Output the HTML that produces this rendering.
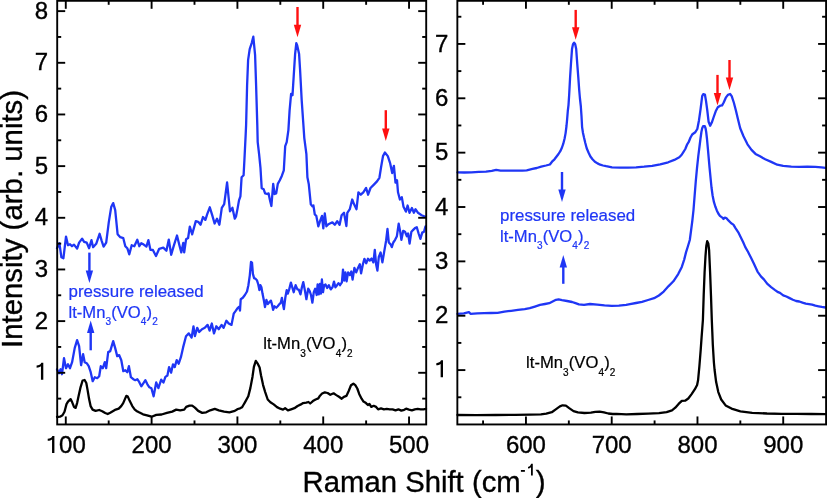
<!DOCTYPE html>
<html><head><meta charset="utf-8"><style>
html,body{margin:0;padding:0;background:#fff;}
svg{display:block;font-family:"Liberation Sans", sans-serif;will-change:transform;}
</style></head><body>
<svg width="827" height="498" viewBox="0 0 827 498">
<rect width="827" height="498" fill="#fff"/>
<polyline points="57.0,417.0 60.0,416.7 62.5,415.2 64.5,411.7 66.5,404.1 68.0,401.6 70.6,399.1 72.1,402.1 74.1,407.1 75.6,407.9 77.1,403.1 78.6,396.1 80.6,387.1 82.6,380.5 84.6,380.0 86.3,383.0 87.6,390.1 89.1,399.1 90.6,406.1 92.6,409.6 95.6,410.9 99.2,410.0 102.2,411.2 105.2,413.0 107.7,414.0 110.2,412.7 113.2,411.0 115.7,409.6 118.7,408.6 121.2,406.1 123.2,403.1 126.3,395.9 127.8,396.6 129.8,401.1 132.3,406.1 134.8,409.6 137.0,411.2 139.0,412.3 143.0,414.3 147.0,415.3 151.6,416.7 156.3,414.9 161.6,414.5 166.9,412.9 172.2,411.6 176.2,409.6 180.2,410.3 184.2,409.6 186.2,406.9 189.5,405.6 192.2,405.6 194.9,407.6 198.2,410.9 202.2,412.9 206.2,412.3 210.2,410.3 214.8,408.9 218.8,410.3 224.1,411.6 229.4,412.3 234.8,410.9 237.8,409.0 240.1,408.3 242.0,407.3 243.4,405.0 244.8,402.6 248.3,396.3 250.4,387.9 252.5,376.7 253.9,366.8 255.8,360.9 257.5,363.3 259.6,367.5 261.0,375.3 263.1,385.1 265.2,392.1 267.7,399.5 270.4,402.2 273.7,404.4 277.0,407.1 280.2,408.7 283.0,409.6 285.1,408.2 287.9,410.4 291.1,409.3 294.4,408.2 297.6,406.0 300.9,404.4 303.1,403.1 306.3,402.7 308.5,402.0 310.2,403.5 312.9,401.1 315.6,399.5 318.3,398.4 320.0,395.7 322.1,393.5 324.8,392.4 327.6,393.0 330.3,394.8 333.6,393.3 336.3,395.1 339.0,396.8 341.7,398.7 343.9,396.8 346.4,395.9 348.8,390.8 351.0,385.3 353.4,383.7 355.3,385.2 357.3,388.5 359.2,393.9 361.6,398.7 363.5,401.6 366.0,403.1 367.9,405.0 369.4,404.0 371.3,406.9 373.7,405.8 376.1,406.9 378.1,409.3 381.0,408.4 383.9,409.3 386.8,408.9 389.7,409.3 392.6,409.3 395.5,410.3 398.4,409.3 401.3,410.6 404.2,409.8 406.1,408.7 409.0,409.6 411.9,410.3 414.8,409.3 417.7,408.9 420.6,409.3 423.5,409.3 426.0,408.9" fill="none" stroke="#000" stroke-width="2.30" stroke-linejoin="round" stroke-linecap="round"/>
<polyline points="57.0,369.2 59.0,373.2 60.6,369.2 62.0,374.2 64.0,358.2 66.0,368.2 68.0,364.2 70.0,368.2 72.1,362.2 74.7,348.1 77.1,340.1 79.1,346.1 81.1,365.2 83.1,354.1 84.7,362.2 86.7,363.2 88.7,366.2 90.7,372.2 92.7,381.2 94.8,377.2 97.2,378.2 99.2,376.2 100.8,366.2 102.8,368.2 104.8,362.2 106.2,368.2 108.2,352.1 110.2,351.1 113.2,341.1 115.2,348.1 117.2,356.1 119.2,355.1 121.3,360.2 123.3,371.2 125.3,370.2 127.3,372.2 128.9,366.2 130.9,377.2 133.3,379.2 135.3,380.2 137.3,379.2 139.3,382.2 141.3,386.3 143.3,383.3 145.4,380.2 147.4,384.3 149.4,387.3 151.4,388.3 153.6,396.3 156.2,382.5 158.4,388.1 161.2,379.7 163.5,382.5 165.4,376.9 167.4,375.5 169.1,367.1 171.1,372.7 173.0,364.3 174.7,367.1 176.7,360.1 178.7,363.7 180.9,357.2 183.1,347.4 186.0,336.2 188.8,333.4 191.6,337.6 193.5,326.3 194.9,336.2 197.2,327.8 199.2,332.0 202.0,329.2 204.8,327.8 207.6,324.9 209.6,330.6 211.8,323.5 214.0,333.4 216.3,326.3 218.8,329.2 221.6,324.9 223.6,327.8 226.4,320.7 228.7,323.5 231.5,324.9 233.7,313.7 235.7,310.9 237.6,308.1 239.3,306.7 240.0,310.5 240.7,299.2 242.8,297.8 244.9,295.0 247.0,291.5 248.4,285.2 249.8,275.3 251.0,262.0 252.0,262.7 252.9,273.9 254.1,278.1 255.5,278.8 256.9,280.2 258.3,284.5 259.4,290.1 260.4,285.2 261.4,287.3 262.5,293.6 263.9,300.6 265.0,307.0 266.4,299.9 267.8,304.1 269.5,302.0 270.9,300.6 272.1,304.9 273.1,309.8 274.5,306.3 276.3,307.7 277.7,306.3 279.4,304.1 280.8,302.7 281.9,297.8 282.9,304.1 283.9,309.1 285.3,297.8 286.7,290.1 287.8,293.6 289.2,289.4 290.9,282.6 292.3,287.3 293.7,292.2 295.6,285.2 297.4,289.4 298.8,289.7 300.5,294.3 301.9,287.3 303.3,282.1 304.7,289.4 306.4,299.2 308.2,288.7 309.6,290.8 311.0,295.0 312.4,302.7 313.8,292.2 315.2,288.7 316.7,295.0 317.6,284.5 318.8,294.3 319.9,283.8 320.9,293.6 321.9,279.5 323.0,292.2 324.1,285.2 325.5,284.5 327.2,288.0 328.9,285.2 330.7,289.4 332.5,287.3 334.0,281.6 335.4,287.3 337.0,285.2 338.5,283.1 340.0,285.2 341.9,282.3 343.0,269.7 344.1,280.5 345.4,272.4 346.6,281.4 348.1,272.4 349.9,275.1 351.3,271.5 352.6,279.6 354.4,267.9 356.2,272.4 358.0,267.9 359.8,264.2 361.1,273.3 362.9,264.2 364.4,258.8 366.2,263.3 368.0,258.8 369.8,260.6 371.6,258.5 373.4,262.4 374.8,249.8 376.1,264.2 377.4,270.6 378.8,257.0 380.6,252.5 382.4,262.4 384.2,251.6 386.1,240.7 387.5,229.0 388.8,242.5 390.6,244.4 391.8,247.1 393.3,242.5 395.1,239.8 396.9,236.2 398.7,223.6 400.2,231.7 401.4,239.8 403.2,230.8 405.0,231.7 406.9,236.2 408.1,233.5 409.6,243.5 411.4,231.7 413.2,229.9 415.0,228.1 416.8,227.2 418.6,233.5 420.4,238.9 422.2,232.6 424.0,231.7 425.5,226.3" fill="none" stroke="#1f36f5" stroke-width="2.30" stroke-linejoin="round" stroke-linecap="round"/>
<polyline points="57.0,248.2 59.4,243.2 61.4,257.3 63.4,258.3 66.0,236.6 68.0,245.2 70.0,244.2 72.0,246.2 74.0,244.6 77.1,248.6 79.1,242.6 82.1,238.6 84.1,241.8 86.7,242.6 89.1,248.2 91.5,240.2 93.1,247.2 96.2,243.8 99.6,233.8 101.6,240.6 103.6,246.6 106.2,242.6 108.8,222.1 111.2,207.1 113.2,203.1 115.2,210.1 117.6,234.2 120.3,237.2 123.3,238.2 125.3,246.2 127.3,248.2 129.3,254.3 131.7,245.2 134.3,246.2 137.3,239.8 139.3,246.2 141.3,243.2 143.7,244.6 146.4,246.6 148.4,240.2 150.4,249.8 152.9,250.0 156.0,256.0 159.2,248.8 163.3,247.6 166.4,250.7 168.8,239.6 171.2,254.8 173.6,246.4 177.0,235.5 179.4,245.2 181.3,252.4 183.3,242.8 184.2,252.4 186.1,239.2 188.1,238.0 189.8,226.6 192.2,234.3 195.8,221.1 198.2,221.8 200.6,224.7 203.0,217.0 205.4,219.9 207.3,213.9 209.8,207.3 212.2,215.1 214.6,223.5 217.0,218.7 219.4,224.7 221.8,207.8 224.2,204.2 227.1,182.5 230.0,211.4 232.4,207.8 234.8,218.7 236.0,216.5 237.6,208.4 239.0,200.4 240.4,196.4 241.6,177.3 243.6,175.3 244.4,160.2 245.6,136.1 246.1,125.1 247.1,85.3 248.1,60.2 249.7,49.1 251.7,43.1 253.3,36.7 255.1,55.2 256.1,85.3 257.3,125.1 257.7,142.1 259.1,154.2 260.5,168.2 261.7,188.3 263.7,189.3 265.1,193.4 267.2,194.0 268.6,193.4 269.8,199.4 271.4,206.0 273.2,183.9 274.6,194.0 276.2,193.4 277.8,183.9 279.8,180.3 281.8,175.9 283.8,170.3 285.2,146.1 286.7,142.1 288.4,130.1 289.6,110.4 291.1,93.9 292.5,95.3 293.7,76.2 295.1,54.1 296.3,43.1 297.1,45.1 299.1,54.1 300.1,70.2 301.7,100.4 303.1,120.5 304.3,138.1 306.4,154.2 307.4,177.3 308.8,184.3 310.8,204.4 312.4,206.4 313.4,205.4 314.8,214.5 316.3,215.9 318.3,226.3 320.3,220.3 322.0,215.9 323.3,228.4 324.8,213.3 326.4,226.3 328.4,224.3 330.4,223.3 332.4,222.4 334.8,224.8 337.2,221.2 339.6,224.8 341.6,215.2 344.0,212.8 346.4,226.0 347.3,212.8 349.8,209.2 352.2,199.5 354.1,204.3 356.5,209.2 358.4,192.3 360.8,194.7 363.3,192.3 366.1,188.0 368.1,194.7 370.5,188.0 373.4,185.1 377.0,181.4 379.4,177.8 381.1,167.0 383.0,156.1 384.9,152.5 387.8,156.1 390.2,163.4 392.2,173.0 393.9,165.8 395.5,182.7 397.0,180.2 398.0,192.3 399.9,199.5 401.8,197.1 403.5,206.7 405.9,211.6 407.6,205.5 409.5,212.8 411.9,208.0 413.9,212.8 415.5,209.2 418.0,212.8 421.6,215.2 425.5,216.8" fill="none" stroke="#1f36f5" stroke-width="2.30" stroke-linejoin="round" stroke-linecap="round"/>
<polyline points="457.5,415.0 476.3,415.2 495.7,415.0 515.0,414.8 530.0,414.6 540.9,414.4 546.3,413.7 551.8,412.2 556.1,409.1 559.9,406.4 562.6,405.3 565.9,405.6 569.2,408.1 573.5,411.1 577.9,412.4 584.4,413.0 590.9,412.6 595.3,411.9 599.6,411.6 604.0,412.4 608.3,413.5 612.7,414.0 616.5,413.9 626.3,414.3 637.2,414.0 648.1,413.7 659.0,413.2 666.6,412.1 672.0,410.3 675.3,407.7 678.6,403.9 681.8,400.9 685.1,400.7 688.3,398.5 691.6,394.1 694.9,389.2 697.1,384.9 698.1,380.0 699.4,366.2 700.7,349.9 701.6,337.2 702.3,328.0 702.9,320.0 703.7,295.0 704.6,272.3 705.5,256.0 706.3,246.0 707.2,241.2 708.3,243.5 709.1,250.1 710.1,272.3 711.0,296.0 711.8,320.0 712.3,332.0 712.8,344.5 713.9,362.5 714.6,370.0 716.1,381.8 718.3,392.1 721.2,399.5 725.6,405.4 731.5,408.6 740.4,411.3 752.2,412.8 767.0,413.5 781.7,413.8 796.4,413.8 811.2,414.0 825.5,414.2" fill="none" stroke="#000" stroke-width="2.30" stroke-linejoin="round" stroke-linecap="round"/>
<polyline points="457.5,313.8 463.8,313.3 468.9,312.1 470.5,313.8 477.3,313.3 484.1,313.2 490.9,313.0 497.6,312.8 504.4,311.6 511.2,310.8 518.0,309.9 524.7,309.1 529.8,308.2 534.9,306.6 540.0,304.9 545.0,304.0 549.3,303.2 552.6,301.5 556.0,299.8 558.6,299.4 562.0,300.1 567.0,301.0 572.1,302.0 575.5,303.2 578.9,304.4 584.0,304.9 590.0,304.0 597.2,304.6 604.5,305.3 611.7,305.8 618.9,305.7 626.1,304.9 630.0,304.2 636.0,303.0 642.0,301.8 648.1,300.0 654.1,298.2 658.9,295.5 663.7,291.6 668.6,286.1 673.4,281.3 678.2,274.1 681.8,266.9 684.2,259.6 686.0,252.4 688.0,246.0 689.8,240.0 691.0,231.0 692.3,221.0 693.5,210.0 694.6,196.0 695.8,181.0 697.0,168.2 698.3,156.0 699.5,146.5 700.5,138.5 701.4,132.0 702.2,128.2 703.1,126.2 704.8,126.2 705.6,128.5 706.2,132.0 707.0,139.0 707.9,148.9 709.6,168.2 711.5,187.5 712.6,195.5 713.9,201.9 715.3,206.5 716.8,210.4 718.3,213.5 719.9,215.9 722.3,217.6 723.5,219.0 724.9,217.6 726.3,218.0 728.4,220.4 731.2,223.2 733.4,224.6 735.5,228.1 738.3,232.3 741.1,238.0 743.2,242.2 745.3,247.1 748.1,252.0 750.9,257.6 753.7,263.3 757.5,271.6 761.1,276.6 764.1,279.6 767.1,283.6 771.1,287.1 775.1,290.1 778.1,292.2 780.0,292.9 783.2,295.3 786.4,296.5 789.6,298.1 792.9,299.7 796.1,301.0 799.3,301.5 802.5,302.7 805.7,303.7 808.9,304.1 812.1,304.7 815.3,305.7 818.6,306.3 821.8,306.9 825.5,307.5" fill="none" stroke="#1f36f5" stroke-width="2.30" stroke-linejoin="round" stroke-linecap="round"/>
<polyline points="457.5,172.4 464.3,172.5 471.5,172.4 478.8,171.8 486.0,171.7 491.8,170.9 496.2,169.9 500.5,170.6 507.8,170.6 515.1,170.6 522.3,170.6 526.7,170.3 532.5,168.9 536.8,168.0 541.2,166.6 546.0,165.5 549.9,164.5 552.0,161.7 554.5,159.3 556.6,156.5 558.5,154.0 560.3,151.2 562.0,147.5 563.3,143.7 564.6,138.5 565.6,133.1 566.5,126.0 567.1,119.6 567.8,111.0 568.5,105.1 569.2,94.2 570.1,77.3 571.0,63.2 572.0,49.1 573.0,44.2 574.1,42.7 575.2,44.2 576.2,49.1 577.2,63.2 578.3,77.3 579.2,90.0 579.9,98.0 580.8,106.0 581.5,116.0 582.1,127.1 583.0,133.0 584.0,137.6 585.3,143.0 586.7,148.2 588.5,152.5 590.4,156.5 592.5,159.3 594.9,161.7 597.5,163.4 600.2,164.7 603.0,165.5 606.2,166.2 612.0,167.3 620.1,167.7 628.1,167.7 636.1,167.3 644.1,166.7 652.2,165.9 660.2,164.3 668.2,162.3 674.3,159.9 679.3,157.3 681.5,155.0 683.2,152.3 685.3,149.0 687.2,144.3 688.6,142.2 690.4,137.8 692.2,134.5 693.5,133.5 695.3,132.2 697.3,129.0 699.0,120.2 700.6,108.9 702.2,96.1 703.3,94.1 704.9,94.5 706.0,100.9 707.3,110.5 708.6,121.8 710.2,125.8 711.8,122.6 713.7,117.0 715.7,111.3 717.8,107.3 720.2,105.7 722.1,105.4 723.7,102.5 725.8,97.7 727.9,94.8 730.1,94.0 731.7,96.1 733.8,102.5 735.9,110.5 737.8,118.6 740.2,128.2 743.5,136.2 747.5,144.3 751.5,149.9 755.5,153.9 760.0,156.3 765.2,159.3 771.2,161.9 777.2,164.7 783.2,165.9 791.3,166.7 799.3,166.9 807.3,166.7 815.4,166.9 821.4,167.3 825.5,167.9" fill="none" stroke="#1f36f5" stroke-width="2.30" stroke-linejoin="round" stroke-linecap="round"/>
<line x1="89.40" y1="252.60" x2="89.40" y2="271.60" stroke="#1f36f5" stroke-width="2.40"/>
<polygon points="85.70,270.60 93.10,270.60 89.40,283.10" fill="#1f36f5"/>
<line x1="90.70" y1="350.30" x2="90.70" y2="332.10" stroke="#1f36f5" stroke-width="2.40"/>
<polygon points="87.00,333.10 94.40,333.10 90.70,320.60" fill="#1f36f5"/>
<line x1="562.00" y1="172.00" x2="562.00" y2="190.50" stroke="#1f36f5" stroke-width="2.40"/>
<polygon points="558.30,189.50 565.70,189.50 562.00,202.00" fill="#1f36f5"/>
<line x1="563.30" y1="283.80" x2="563.30" y2="266.40" stroke="#1f36f5" stroke-width="2.40"/>
<polygon points="559.60,267.40 567.00,267.40 563.30,254.90" fill="#1f36f5"/>
<line x1="297.50" y1="7.00" x2="297.50" y2="25.70" stroke="#ff1010" stroke-width="2.40"/>
<polygon points="293.80,24.70 301.20,24.70 297.50,37.20" fill="#ff1010"/>
<line x1="385.80" y1="110.20" x2="385.80" y2="129.50" stroke="#ff1010" stroke-width="2.40"/>
<polygon points="382.10,128.50 389.50,128.50 385.80,141.00" fill="#ff1010"/>
<line x1="575.70" y1="9.90" x2="575.70" y2="28.30" stroke="#ff1010" stroke-width="2.40"/>
<polygon points="572.00,27.30 579.40,27.30 575.70,39.80" fill="#ff1010"/>
<line x1="717.50" y1="74.90" x2="717.50" y2="93.90" stroke="#ff1010" stroke-width="2.40"/>
<polygon points="713.80,92.90 721.20,92.90 717.50,105.40" fill="#ff1010"/>
<line x1="729.50" y1="60.00" x2="729.50" y2="78.60" stroke="#ff1010" stroke-width="2.40"/>
<polygon points="725.80,77.60 733.20,77.60 729.50,90.10" fill="#ff1010"/>
<rect x="57.20" y="0.80" width="369.00" height="423.65" fill="none" stroke="#000" stroke-width="1.90"/>
<rect x="457.35" y="0.80" width="368.75" height="423.65" fill="none" stroke="#000" stroke-width="1.90"/>
<line x1="65.78" y1="424.45" x2="65.78" y2="416.45" stroke="#000" stroke-width="1.90"/>
<line x1="65.78" y1="0.80" x2="65.78" y2="8.80" stroke="#000" stroke-width="1.90"/>
<line x1="108.69" y1="424.45" x2="108.69" y2="420.45" stroke="#000" stroke-width="1.90"/>
<line x1="108.69" y1="0.80" x2="108.69" y2="4.80" stroke="#000" stroke-width="1.90"/>
<line x1="151.60" y1="424.45" x2="151.60" y2="416.45" stroke="#000" stroke-width="1.90"/>
<line x1="151.60" y1="0.80" x2="151.60" y2="8.80" stroke="#000" stroke-width="1.90"/>
<line x1="194.50" y1="424.45" x2="194.50" y2="420.45" stroke="#000" stroke-width="1.90"/>
<line x1="194.50" y1="0.80" x2="194.50" y2="4.80" stroke="#000" stroke-width="1.90"/>
<line x1="237.41" y1="424.45" x2="237.41" y2="416.45" stroke="#000" stroke-width="1.90"/>
<line x1="237.41" y1="0.80" x2="237.41" y2="8.80" stroke="#000" stroke-width="1.90"/>
<line x1="280.32" y1="424.45" x2="280.32" y2="420.45" stroke="#000" stroke-width="1.90"/>
<line x1="280.32" y1="0.80" x2="280.32" y2="4.80" stroke="#000" stroke-width="1.90"/>
<line x1="323.22" y1="424.45" x2="323.22" y2="416.45" stroke="#000" stroke-width="1.90"/>
<line x1="323.22" y1="0.80" x2="323.22" y2="8.80" stroke="#000" stroke-width="1.90"/>
<line x1="366.13" y1="424.45" x2="366.13" y2="420.45" stroke="#000" stroke-width="1.90"/>
<line x1="366.13" y1="0.80" x2="366.13" y2="4.80" stroke="#000" stroke-width="1.90"/>
<line x1="409.04" y1="424.45" x2="409.04" y2="416.45" stroke="#000" stroke-width="1.90"/>
<line x1="409.04" y1="0.80" x2="409.04" y2="8.80" stroke="#000" stroke-width="1.90"/>
<line x1="57.20" y1="398.62" x2="61.20" y2="398.62" stroke="#000" stroke-width="1.90"/>
<line x1="426.20" y1="398.62" x2="422.20" y2="398.62" stroke="#000" stroke-width="1.90"/>
<line x1="57.20" y1="372.79" x2="65.20" y2="372.79" stroke="#000" stroke-width="1.90"/>
<line x1="426.20" y1="372.79" x2="418.20" y2="372.79" stroke="#000" stroke-width="1.90"/>
<line x1="57.20" y1="346.95" x2="61.20" y2="346.95" stroke="#000" stroke-width="1.90"/>
<line x1="426.20" y1="346.95" x2="422.20" y2="346.95" stroke="#000" stroke-width="1.90"/>
<line x1="57.20" y1="321.12" x2="65.20" y2="321.12" stroke="#000" stroke-width="1.90"/>
<line x1="426.20" y1="321.12" x2="418.20" y2="321.12" stroke="#000" stroke-width="1.90"/>
<line x1="57.20" y1="295.29" x2="61.20" y2="295.29" stroke="#000" stroke-width="1.90"/>
<line x1="426.20" y1="295.29" x2="422.20" y2="295.29" stroke="#000" stroke-width="1.90"/>
<line x1="57.20" y1="269.46" x2="65.20" y2="269.46" stroke="#000" stroke-width="1.90"/>
<line x1="426.20" y1="269.46" x2="418.20" y2="269.46" stroke="#000" stroke-width="1.90"/>
<line x1="57.20" y1="243.62" x2="61.20" y2="243.62" stroke="#000" stroke-width="1.90"/>
<line x1="426.20" y1="243.62" x2="422.20" y2="243.62" stroke="#000" stroke-width="1.90"/>
<line x1="57.20" y1="217.79" x2="65.20" y2="217.79" stroke="#000" stroke-width="1.90"/>
<line x1="426.20" y1="217.79" x2="418.20" y2="217.79" stroke="#000" stroke-width="1.90"/>
<line x1="57.20" y1="191.96" x2="61.20" y2="191.96" stroke="#000" stroke-width="1.90"/>
<line x1="426.20" y1="191.96" x2="422.20" y2="191.96" stroke="#000" stroke-width="1.90"/>
<line x1="57.20" y1="166.13" x2="65.20" y2="166.13" stroke="#000" stroke-width="1.90"/>
<line x1="426.20" y1="166.13" x2="418.20" y2="166.13" stroke="#000" stroke-width="1.90"/>
<line x1="57.20" y1="140.29" x2="61.20" y2="140.29" stroke="#000" stroke-width="1.90"/>
<line x1="426.20" y1="140.29" x2="422.20" y2="140.29" stroke="#000" stroke-width="1.90"/>
<line x1="57.20" y1="114.46" x2="65.20" y2="114.46" stroke="#000" stroke-width="1.90"/>
<line x1="426.20" y1="114.46" x2="418.20" y2="114.46" stroke="#000" stroke-width="1.90"/>
<line x1="57.20" y1="88.63" x2="61.20" y2="88.63" stroke="#000" stroke-width="1.90"/>
<line x1="426.20" y1="88.63" x2="422.20" y2="88.63" stroke="#000" stroke-width="1.90"/>
<line x1="57.20" y1="62.80" x2="65.20" y2="62.80" stroke="#000" stroke-width="1.90"/>
<line x1="426.20" y1="62.80" x2="418.20" y2="62.80" stroke="#000" stroke-width="1.90"/>
<line x1="57.20" y1="36.97" x2="61.20" y2="36.97" stroke="#000" stroke-width="1.90"/>
<line x1="426.20" y1="36.97" x2="422.20" y2="36.97" stroke="#000" stroke-width="1.90"/>
<line x1="57.20" y1="11.13" x2="65.20" y2="11.13" stroke="#000" stroke-width="1.90"/>
<line x1="426.20" y1="11.13" x2="418.20" y2="11.13" stroke="#000" stroke-width="1.90"/>
<line x1="483.08" y1="424.45" x2="483.08" y2="420.45" stroke="#000" stroke-width="1.90"/>
<line x1="483.08" y1="0.80" x2="483.08" y2="4.80" stroke="#000" stroke-width="1.90"/>
<line x1="525.95" y1="424.45" x2="525.95" y2="416.45" stroke="#000" stroke-width="1.90"/>
<line x1="525.95" y1="0.80" x2="525.95" y2="8.80" stroke="#000" stroke-width="1.90"/>
<line x1="568.83" y1="424.45" x2="568.83" y2="420.45" stroke="#000" stroke-width="1.90"/>
<line x1="568.83" y1="0.80" x2="568.83" y2="4.80" stroke="#000" stroke-width="1.90"/>
<line x1="611.71" y1="424.45" x2="611.71" y2="416.45" stroke="#000" stroke-width="1.90"/>
<line x1="611.71" y1="0.80" x2="611.71" y2="8.80" stroke="#000" stroke-width="1.90"/>
<line x1="654.59" y1="424.45" x2="654.59" y2="420.45" stroke="#000" stroke-width="1.90"/>
<line x1="654.59" y1="0.80" x2="654.59" y2="4.80" stroke="#000" stroke-width="1.90"/>
<line x1="697.47" y1="424.45" x2="697.47" y2="416.45" stroke="#000" stroke-width="1.90"/>
<line x1="697.47" y1="0.80" x2="697.47" y2="8.80" stroke="#000" stroke-width="1.90"/>
<line x1="740.34" y1="424.45" x2="740.34" y2="420.45" stroke="#000" stroke-width="1.90"/>
<line x1="740.34" y1="0.80" x2="740.34" y2="4.80" stroke="#000" stroke-width="1.90"/>
<line x1="783.22" y1="424.45" x2="783.22" y2="416.45" stroke="#000" stroke-width="1.90"/>
<line x1="783.22" y1="0.80" x2="783.22" y2="8.80" stroke="#000" stroke-width="1.90"/>
<line x1="457.35" y1="397.27" x2="461.35" y2="397.27" stroke="#000" stroke-width="1.90"/>
<line x1="826.10" y1="397.27" x2="822.10" y2="397.27" stroke="#000" stroke-width="1.90"/>
<line x1="457.35" y1="370.09" x2="465.35" y2="370.09" stroke="#000" stroke-width="1.90"/>
<line x1="826.10" y1="370.09" x2="818.10" y2="370.09" stroke="#000" stroke-width="1.90"/>
<line x1="457.35" y1="342.91" x2="461.35" y2="342.91" stroke="#000" stroke-width="1.90"/>
<line x1="826.10" y1="342.91" x2="822.10" y2="342.91" stroke="#000" stroke-width="1.90"/>
<line x1="457.35" y1="315.73" x2="465.35" y2="315.73" stroke="#000" stroke-width="1.90"/>
<line x1="826.10" y1="315.73" x2="818.10" y2="315.73" stroke="#000" stroke-width="1.90"/>
<line x1="457.35" y1="288.55" x2="461.35" y2="288.55" stroke="#000" stroke-width="1.90"/>
<line x1="826.10" y1="288.55" x2="822.10" y2="288.55" stroke="#000" stroke-width="1.90"/>
<line x1="457.35" y1="261.37" x2="465.35" y2="261.37" stroke="#000" stroke-width="1.90"/>
<line x1="826.10" y1="261.37" x2="818.10" y2="261.37" stroke="#000" stroke-width="1.90"/>
<line x1="457.35" y1="234.19" x2="461.35" y2="234.19" stroke="#000" stroke-width="1.90"/>
<line x1="826.10" y1="234.19" x2="822.10" y2="234.19" stroke="#000" stroke-width="1.90"/>
<line x1="457.35" y1="207.01" x2="465.35" y2="207.01" stroke="#000" stroke-width="1.90"/>
<line x1="826.10" y1="207.01" x2="818.10" y2="207.01" stroke="#000" stroke-width="1.90"/>
<line x1="457.35" y1="179.83" x2="461.35" y2="179.83" stroke="#000" stroke-width="1.90"/>
<line x1="826.10" y1="179.83" x2="822.10" y2="179.83" stroke="#000" stroke-width="1.90"/>
<line x1="457.35" y1="152.65" x2="465.35" y2="152.65" stroke="#000" stroke-width="1.90"/>
<line x1="826.10" y1="152.65" x2="818.10" y2="152.65" stroke="#000" stroke-width="1.90"/>
<line x1="457.35" y1="125.47" x2="461.35" y2="125.47" stroke="#000" stroke-width="1.90"/>
<line x1="826.10" y1="125.47" x2="822.10" y2="125.47" stroke="#000" stroke-width="1.90"/>
<line x1="457.35" y1="98.29" x2="465.35" y2="98.29" stroke="#000" stroke-width="1.90"/>
<line x1="826.10" y1="98.29" x2="818.10" y2="98.29" stroke="#000" stroke-width="1.90"/>
<line x1="457.35" y1="71.11" x2="461.35" y2="71.11" stroke="#000" stroke-width="1.90"/>
<line x1="826.10" y1="71.11" x2="822.10" y2="71.11" stroke="#000" stroke-width="1.90"/>
<line x1="457.35" y1="43.93" x2="465.35" y2="43.93" stroke="#000" stroke-width="1.90"/>
<line x1="826.10" y1="43.93" x2="818.10" y2="43.93" stroke="#000" stroke-width="1.90"/>
<line x1="457.35" y1="16.75" x2="461.35" y2="16.75" stroke="#000" stroke-width="1.90"/>
<line x1="826.10" y1="16.75" x2="822.10" y2="16.75" stroke="#000" stroke-width="1.90"/>
<text x="59.11" y="453" font-size="24" stroke="#000" stroke-width="0.35">00</text>
<path d="M54.40 452.90 V435.90 H52.40 C51.80 437.90 49.90 438.60 47.70 438.70 V440.80 C49.60 440.80 51.10 440.40 52.05 439.50 V452.90 Z" fill="#000"/>
<text x="151.60" y="453" text-anchor="middle" font-size="24" stroke="#000" stroke-width="0.35">200</text>
<text x="237.41" y="453" text-anchor="middle" font-size="24" stroke="#000" stroke-width="0.35">300</text>
<text x="323.22" y="453" text-anchor="middle" font-size="24" stroke="#000" stroke-width="0.35">400</text>
<text x="409.04" y="453" text-anchor="middle" font-size="24" stroke="#000" stroke-width="0.35">500</text>
<text x="525.95" y="453" text-anchor="middle" font-size="24" stroke="#000" stroke-width="0.35">600</text>
<text x="611.71" y="453" text-anchor="middle" font-size="24" stroke="#000" stroke-width="0.35">700</text>
<text x="697.47" y="453" text-anchor="middle" font-size="24" stroke="#000" stroke-width="0.35">800</text>
<text x="783.22" y="453" text-anchor="middle" font-size="24" stroke="#000" stroke-width="0.35">900</text>
<text x="48.2" y="328.52" text-anchor="end" font-size="24" stroke="#000" stroke-width="0.35">2</text>
<text x="48.2" y="276.86" text-anchor="end" font-size="24" stroke="#000" stroke-width="0.35">3</text>
<text x="48.2" y="225.19" text-anchor="end" font-size="24" stroke="#000" stroke-width="0.35">4</text>
<text x="48.2" y="173.53" text-anchor="end" font-size="24" stroke="#000" stroke-width="0.35">5</text>
<text x="48.2" y="121.86" text-anchor="end" font-size="24" stroke="#000" stroke-width="0.35">6</text>
<text x="48.2" y="70.20" text-anchor="end" font-size="24" stroke="#000" stroke-width="0.35">7</text>
<text x="48.2" y="18.53" text-anchor="end" font-size="24" stroke="#000" stroke-width="0.35">8</text>
<path d="M43.30 379.75 V362.75 H41.30 C40.70 364.75 38.80 365.45 36.60 365.55 V367.65 C38.50 367.65 40.00 367.25 40.95 366.35 V379.75 Z" fill="#000"/>
<text x="448.4" y="323.33" text-anchor="end" font-size="24" stroke="#000" stroke-width="0.35">2</text>
<text x="448.4" y="268.97" text-anchor="end" font-size="24" stroke="#000" stroke-width="0.35">3</text>
<text x="448.4" y="214.61" text-anchor="end" font-size="24" stroke="#000" stroke-width="0.35">4</text>
<text x="448.4" y="160.25" text-anchor="end" font-size="24" stroke="#000" stroke-width="0.35">5</text>
<text x="448.4" y="105.89" text-anchor="end" font-size="24" stroke="#000" stroke-width="0.35">6</text>
<text x="448.4" y="51.53" text-anchor="end" font-size="24" stroke="#000" stroke-width="0.35">7</text>
<path d="M443.00 377.35 V360.35 H441.00 C440.40 362.35 438.50 363.05 436.30 363.15 V365.25 C438.20 365.25 439.70 364.85 440.65 363.95 V377.35 Z" fill="#000"/>
<text x="302.6" y="491.8" font-size="29.6" textLength="218.1" lengthAdjust="spacingAndGlyphs" stroke="#000" stroke-width="0.35">Raman Shift (cm</text>
<rect x="520.9" y="470.0" width="4.0" height="1.8" fill="#000"/>
<path d="M531.0 475.6 V467.2 Q529.9 468.3 528.0 468.6 V466.9 Q530.5 466.5 531.2 463.8 H532.8 V475.6 Z" fill="#000"/>
<text x="535.8" y="491.8" font-size="29.6" stroke="#000" stroke-width="0.35">)</text>
<text transform="translate(21.8,348) rotate(-90)" font-size="29.4" stroke="#000" stroke-width="0.35">Intensity (arb. units)</text>
<text x="68.5" y="297" font-size="16.9" fill="#1f36f5" stroke="#1f36f5" stroke-width="0.22">pressure released</text>
<text x="68.5" y="317.5" font-size="16.6" fill="#1f36f5" stroke="#1f36f5" stroke-width="0.22">lt-Mn<tspan font-size="10.0" dy="7.6" dx="0.14">3</tspan><tspan dy="-7.6" dx="0.14">(VO</tspan><tspan font-size="10.0" dy="7.6" dx="0.14">4</tspan><tspan dy="-7.6" dx="0.14">)</tspan><tspan font-size="10.0" dy="7.6" dx="0.14">2</tspan></text>
<text x="500" y="221.2" font-size="16.9" fill="#1f36f5" stroke="#1f36f5" stroke-width="0.22">pressure released</text>
<text x="500.0" y="241.5" font-size="16.6" fill="#1f36f5" stroke="#1f36f5" stroke-width="0.22">lt-Mn<tspan font-size="10.0" dy="7.6" dx="0.14">3</tspan><tspan dy="-7.6" dx="0.14">(VO</tspan><tspan font-size="10.0" dy="7.6" dx="0.14">4</tspan><tspan dy="-7.6" dx="0.14">)</tspan><tspan font-size="10.0" dy="7.6" dx="0.14">2</tspan></text>
<text x="263.3" y="349.2" font-size="16.6" fill="#000" stroke="#000" stroke-width="0.22">lt-Mn<tspan font-size="10.0" dy="7.6" dx="0.14">3</tspan><tspan dy="-7.6" dx="0.14">(VO</tspan><tspan font-size="10.0" dy="7.6" dx="0.14">4</tspan><tspan dy="-7.6" dx="0.14">)</tspan><tspan font-size="10.0" dy="7.6" dx="0.14">2</tspan></text>
<text x="526.1" y="368.2" font-size="16.6" fill="#000" stroke="#000" stroke-width="0.22">lt-Mn<tspan font-size="10.0" dy="7.6" dx="0.14">3</tspan><tspan dy="-7.6" dx="0.14">(VO</tspan><tspan font-size="10.0" dy="7.6" dx="0.14">4</tspan><tspan dy="-7.6" dx="0.14">)</tspan><tspan font-size="10.0" dy="7.6" dx="0.14">2</tspan></text>
</svg>
</body></html>
